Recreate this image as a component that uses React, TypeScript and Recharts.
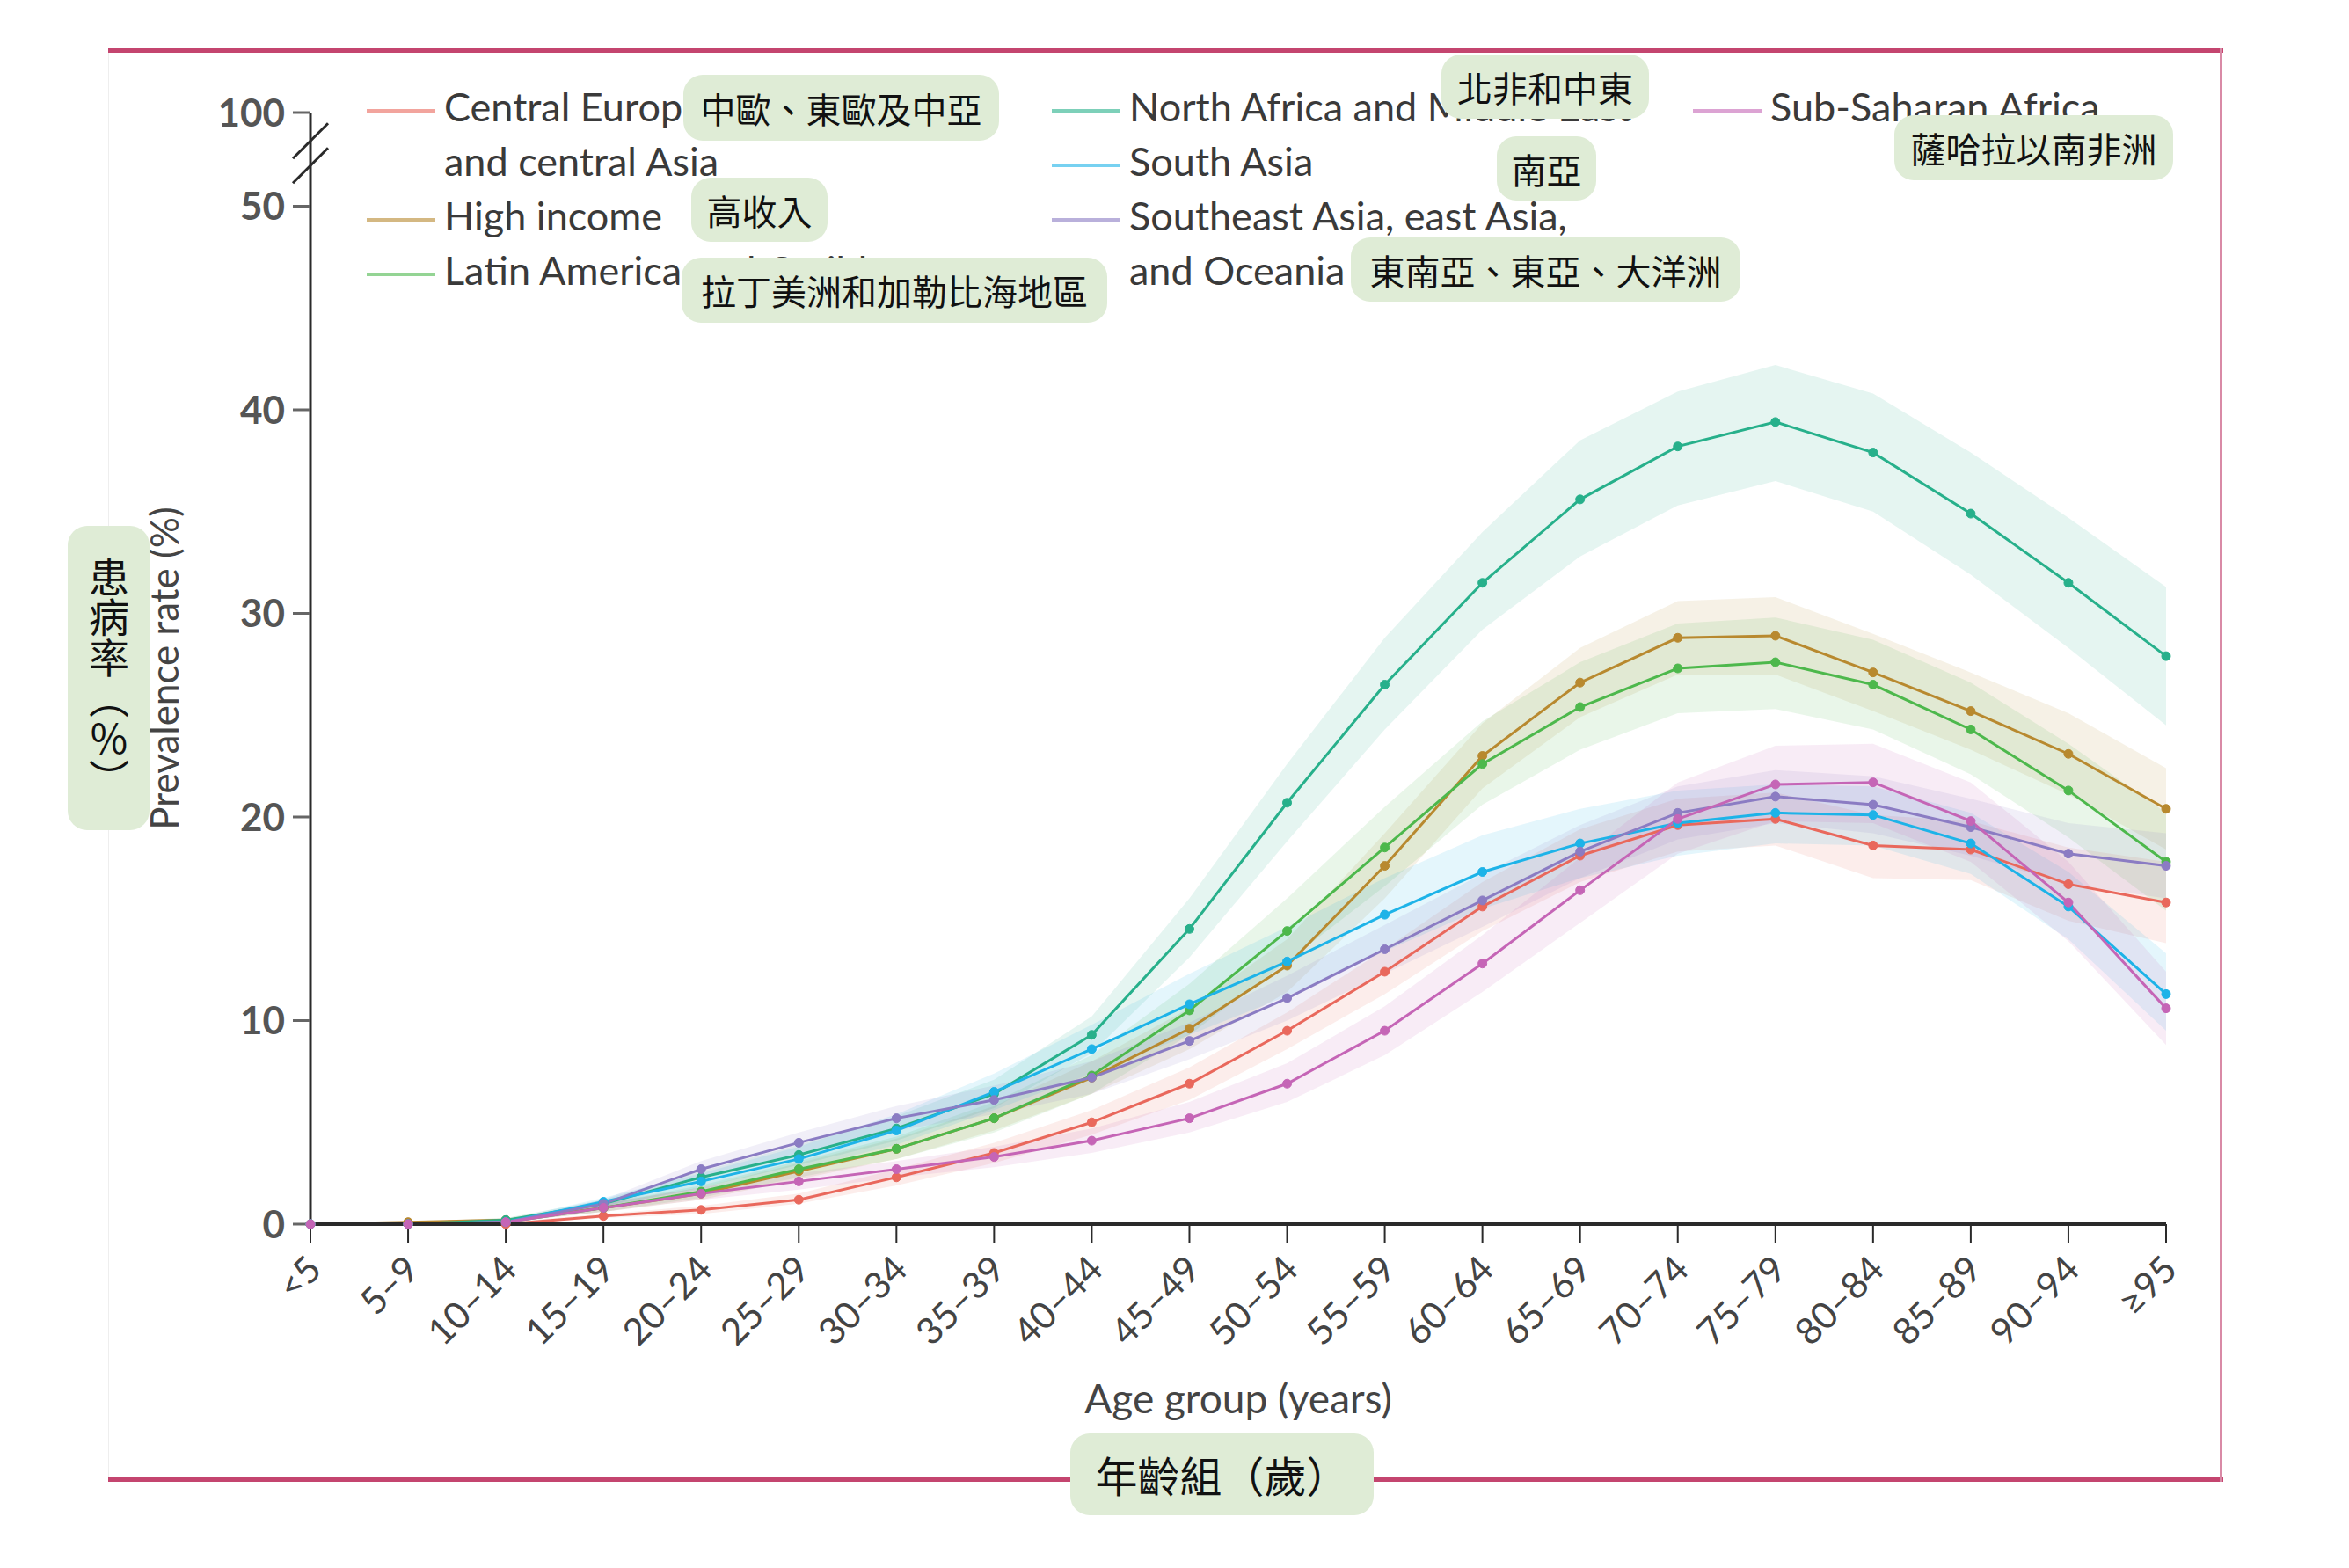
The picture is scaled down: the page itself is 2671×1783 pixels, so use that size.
import React from 'react';
import { ComposedChart, Line, Area, XAxis, YAxis, ReferenceDot } from 'recharts';

const ageGroups = ['<5', '5–9', '10–14', '15–19', '20–24', '25–29', '30–34', '35–39', '40–44', '45–49',
  '50–54', '55–59', '60–64', '65–69', '70–74', '75–79', '80–84', '85–89', '90–94', '≥95'];

// prevalence (%) with uncertainty bands
const centralEurope = [0, 0, 0, 0.4, 0.7, 1.2, 2.3, 3.5, 5.0, 6.9, 9.5, 12.4, 15.6, 18.1, 19.6, 19.9, 18.6, 18.4, 16.7, 15.8];
const centralEuropeLow = [0, 0, 0, 0.3, 0.5, 1.0, 1.9, 3.0, 4.4, 6.1, 8.6, 11.3, 14.4, 16.8, 18.3, 18.6, 17.0, 16.9, 14.9, 13.8];
const centralEuropeHigh = [0, 0, 0.1, 0.5, 0.9, 1.5, 2.7, 4.0, 5.6, 7.7, 10.4, 13.5, 16.8, 19.4, 20.9, 21.2, 20.1, 19.8, 18.5, 17.8];

const highIncome = [0, 0.1, 0.2, 0.8, 1.5, 2.6, 3.7, 5.2, 7.2, 9.6, 12.7, 17.6, 23.0, 26.6, 28.8, 28.9, 27.1, 25.2, 23.1, 20.4];
const highIncomeLow = [0, 0, 0.1, 0.6, 1.2, 2.2, 3.2, 4.6, 6.4, 8.6, 11.4, 16.0, 21.4, 24.9, 27.0, 27.0, 25.2, 23.3, 21.1, 18.4];
const highIncomeHigh = [0, 0.1, 0.3, 1.0, 1.8, 3.0, 4.2, 5.8, 8.0, 10.6, 14.0, 19.2, 24.6, 28.3, 30.6, 30.8, 29.0, 27.1, 25.1, 22.4];

const latinAmerica = [0, 0, 0.1, 0.8, 1.6, 2.7, 3.7, 5.2, 7.3, 10.5, 14.4, 18.5, 22.6, 25.4, 27.3, 27.6, 26.5, 24.3, 21.3, 17.8];
const latinAmericaLow = [0, 0, 0.1, 0.6, 1.3, 2.3, 3.2, 4.5, 6.4, 9.3, 12.9, 16.6, 20.6, 23.3, 25.1, 25.3, 24.3, 22.1, 19.0, 15.4];
const latinAmericaHigh = [0, 0.1, 0.2, 1.0, 1.9, 3.1, 4.3, 6.0, 8.3, 11.8, 16.0, 20.5, 24.7, 27.6, 29.5, 29.8, 28.7, 26.6, 23.6, 20.2];

const northAfrica = [0, 0, 0.2, 1.0, 2.3, 3.4, 4.7, 6.4, 9.3, 14.5, 20.7, 26.5, 31.5, 35.6, 38.2, 39.4, 37.9, 34.9, 31.5, 27.9];
const northAfricaLow = [0, 0, 0.1, 0.8, 1.8, 2.9, 4.1, 5.7, 8.4, 13.1, 18.8, 24.3, 29.2, 32.8, 35.3, 36.5, 35.0, 31.9, 28.3, 24.5];
const northAfricaHigh = [0, 0.1, 0.3, 1.2, 2.6, 3.9, 5.3, 7.1, 10.2, 16.0, 22.6, 28.8, 34.0, 38.5, 40.9, 42.2, 40.8, 37.9, 34.7, 31.3];

const southAsia = [0, 0, 0.1, 1.1, 2.1, 3.2, 4.6, 6.5, 8.6, 10.8, 12.9, 15.2, 17.3, 18.7, 19.7, 20.2, 20.1, 18.7, 15.6, 11.3];
const southAsiaLow = [0, 0, 0.1, 0.9, 1.7, 2.7, 3.9, 5.6, 7.4, 9.3, 11.2, 13.4, 15.5, 17.0, 18.1, 18.7, 18.6, 17.2, 14.0, 9.5];
const southAsiaHigh = [0, 0.1, 0.2, 1.3, 2.5, 3.8, 5.4, 7.4, 9.8, 12.3, 14.6, 17.0, 19.1, 20.4, 21.3, 21.6, 21.5, 20.2, 17.3, 13.3];

const southeastAsia = [0, 0, 0.1, 1.0, 2.7, 4.0, 5.2, 6.1, 7.2, 9.0, 11.1, 13.5, 15.9, 18.3, 20.2, 21.0, 20.6, 19.5, 18.2, 17.6];
const southeastAsiaLow = [0, 0, 0.1, 0.8, 2.3, 3.5, 4.6, 5.4, 6.4, 8.1, 10.0, 12.3, 14.6, 17.0, 18.9, 19.7, 19.2, 18.1, 16.7, 16.0];
const southeastAsiaHigh = [0, 0.1, 0.2, 1.2, 3.1, 4.5, 5.8, 6.8, 8.0, 9.9, 12.2, 14.7, 17.2, 19.6, 21.5, 22.3, 22.0, 20.9, 19.7, 19.2];

const subSaharan = [0, 0, 0.1, 0.8, 1.5, 2.1, 2.7, 3.3, 4.1, 5.2, 6.9, 9.5, 12.8, 16.4, 19.9, 21.6, 21.7, 19.8, 15.8, 10.6];
const subSaharanLow = [0, 0, 0.1, 0.6, 1.2, 1.7, 2.3, 2.8, 3.5, 4.5, 6.0, 8.3, 11.4, 14.8, 18.2, 19.8, 19.7, 17.8, 13.9, 8.8];
const subSaharanHigh = [0, 0.1, 0.2, 1.0, 1.8, 2.5, 3.1, 3.8, 4.7, 6.0, 7.9, 10.7, 14.2, 18.0, 21.7, 23.5, 23.6, 21.7, 17.8, 12.4];

// y axis is broken above 50: the "100" tick sits just above the break
const AXIS_TOP = 54.6;
const AXIS_BREAK = 52.6;
const yTicks = [0, 10, 20, 30, 40, 50, AXIS_TOP];
const yTickText = ['0', '10', '20', '30', '40', '50', '100'];

const series = [
  { key: 'ce', name: 'Central Europe, eastern Europe,\nand central Asia', color: '#e9685c', col: 0, values: centralEurope, low: centralEuropeLow, high: centralEuropeHigh },
  { key: 'hi', name: 'High income', color: '#b8892f', col: 0, values: highIncome, low: highIncomeLow, high: highIncomeHigh },
  { key: 'la', name: 'Latin America and Caribbean', color: '#4db84c', col: 0, values: latinAmerica, low: latinAmericaLow, high: latinAmericaHigh },
  { key: 'na', name: 'North Africa and Middle East', color: '#27b08b', col: 1, values: northAfrica, low: northAfricaLow, high: northAfricaHigh },
  { key: 'sa', name: 'South Asia', color: '#1db3e8', col: 1, values: southAsia, low: southAsiaLow, high: southAsiaHigh },
  { key: 'se', name: 'Southeast Asia, east Asia,\nand Oceania', color: '#8b7cc3', col: 1, values: southeastAsia, low: southeastAsiaLow, high: southeastAsiaHigh },
  { key: 'ss', name: 'Sub-Saharan Africa', color: '#c565b6', col: 2, values: subSaharan, low: subSaharanLow, high: subSaharanHigh },
];

const data = ageGroups.map((age, i) => {
  const row: any = { age };
  series.forEach(s => {
    row[s.key] = s.values[i];
    row[s.key + 'Band'] = [s.low[i], s.high[i]];
  });
  return row;
});

// translated captions laid over the original figure
const notes = [
  { text: '中歐、東歐及中亞', left: 769, top: 77, width: 359, height: 75, size: 40 },
  { text: '高收入', left: 778, top: 194, width: 155, height: 73, size: 40 },
  { text: '拉丁美洲和加勒比海地區', left: 767, top: 285, width: 484, height: 74, size: 40 },
  { text: '北非和中東', left: 1631, top: 54, width: 236, height: 73, size: 40 },
  { text: '南亞', left: 1694, top: 147, width: 113, height: 73, size: 40 },
  { text: '東南亞、東亞、大洋洲', left: 1528, top: 262, width: 443, height: 73, size: 40 },
  { text: '薩哈拉以南非洲', left: 2146, top: 123, width: 317, height: 74, size: 40 },
  { text: '患病率（%）', left: 69, top: 590, width: 93, height: 346, size: 46, vertical: true },
  { text: '年齡組（歲）', left: 1209, top: 1622, width: 345, height: 93, size: 48 },
];

const legendCols = [409, 1188, 1917];
const textFont = 'Lato, "Open Sans", sans-serif';
const cjkFont = '"Noto Sans CJK TC", "Noto Sans CJK SC", sans-serif';

function AgeTick({ x, y, payload }: any) {
  return (
    <g transform={`translate(${x + 15},${y + 24})`}>
      <text textAnchor="end" transform="rotate(-45)" fontSize={42} fill="#444" fontFamily={textFont}>
        {payload.value}
      </text>
    </g>
  );
}

function AxisBreak({ cx, cy }: any) {
  return (
    <g stroke="#2a2a2a" strokeWidth={3}>
      <line x1={cx - 20} y1={cy + 6} x2={cx + 20} y2={cy - 34} />
      <line x1={cx - 20} y1={cy + 34} x2={cx + 20} y2={cy - 6} />
    </g>
  );
}

export default function App() {
  return (
    <div style={{ position: 'relative', width: 2655, height: 1767, overflow: 'hidden', background: '#fff' }}>
      {/* frame */}
      <div style={{ position: 'absolute', left: 115, top: 47, width: 2405, height: 5, background: '#c4456f' }} />
      <div style={{ position: 'absolute', left: 115, top: 1672, width: 2405, height: 5, background: '#c4456f' }} />
      <div style={{ position: 'absolute', left: 2516, top: 47, width: 3, height: 1630, background: '#d98aa6' }} />
      <div style={{ position: 'absolute', left: 115, top: 52, width: 1, height: 1620, background: '#eeeeee' }} />

      {/* legend */}
      {legendCols.map((left, c) => (
        <div key={c} style={{ position: 'absolute', left, top: 82 }}>
          {series.filter(s => s.col === c).map(s => (
            <div key={s.key} style={{ display: 'flex', alignItems: 'flex-start' }}>
              <div style={{ width: 78, height: 4, marginTop: 34, background: s.color, opacity: 0.6 }} />
              <div style={{ marginLeft: 10, whiteSpace: 'pre-line', fontFamily: textFont, fontSize: 45, lineHeight: '62px', color: '#3a3a3a' }}>
                {s.name}
              </div>
            </div>
          ))}
        </div>
      ))}

      <div style={{ position: 'absolute', left: 0, top: 0 }}>
        <ComposedChart width={2655} height={1767} data={data} margin={{ top: 120, right: 200, left: 13, bottom: 0 }}>
          <XAxis
            dataKey="age"
            scale="point"
            padding={{ left: 0, right: 0 }}
            interval={0}
            height={383}
            tickSize={22}
            tickMargin={8}
            axisLine={{ stroke: '#2a2a2a', strokeWidth: 4 }}
            tickLine={{ stroke: '#2a2a2a', strokeWidth: 2 }}
            tick={<AgeTick />}
            label={{ value: 'Age group (years)', position: 'insideBottom', offset: 168, fontSize: 46, fill: '#444', fontFamily: textFont }}
          />
          <YAxis
            type="number"
            domain={[0, AXIS_TOP]}
            ticks={yTicks}
            interval={0}
            width={332}
            tickSize={20}
            tickMargin={9}
            tickFormatter={(v: number) => yTickText[yTicks.indexOf(v)]}
            axisLine={{ stroke: '#2a2a2a', strokeWidth: 3 }}
            tickLine={{ stroke: '#666', strokeWidth: 3 }}
            tick={{ fontSize: 44, fill: '#555', fontFamily: textFont, fontWeight: 700 }}
            label={{ value: 'Prevalence rate (%)', angle: -90, position: 'center', fontSize: 44, fill: '#444', fontFamily: textFont }}
          />
          {series.map(s => (
            <Area
              key={s.key + 'Band'}
              dataKey={s.key + 'Band'}
              stroke="none"
              fill={s.color}
              fillOpacity={0.12}
              legendType="none"
              isAnimationActive={false}
            />
          ))}
          {series.map(s => (
            <Line
              key={s.key}
              dataKey={s.key}
              name={s.name}
              stroke={s.color}
              strokeWidth={3}
              dot={{ r: 5, fill: s.color, stroke: s.color, strokeWidth: 1 }}
              isAnimationActive={false}
            />
          ))}
          <ReferenceDot x={ageGroups[0]} y={AXIS_BREAK} r={0} shape={(p: any) => <AxisBreak {...p} />} />
        </ComposedChart>
      </div>

      {/* overlay captions */}
      {notes.map(n => (
        <div
          key={n.text}
          style={{
            position: 'absolute', left: n.left, top: n.top, width: n.width, height: n.height,
            background: '#dfecd6', borderRadius: 22, display: 'flex', alignItems: 'center', justifyContent: 'center',
            fontFamily: cjkFont, fontSize: n.size, color: '#111', lineHeight: 1.15,
          }}
        >
          <span
            style={{
              whiteSpace: 'nowrap',
              writingMode: n.vertical ? 'vertical-rl' : undefined,
              textOrientation: n.vertical ? 'upright' : undefined,
            }}
          >
            {n.text}
          </span>
        </div>
      ))}
    </div>
  );
}
